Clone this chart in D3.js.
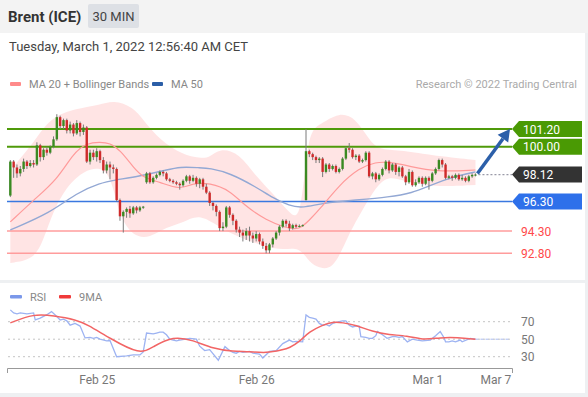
<!DOCTYPE html>
<html><head><meta charset="utf-8">
<script src="https://cdn.jsdelivr.net/npm/d3@7"></script>
<style>
body{margin:0;background:#fff;font-family:Roboto,"Noto Sans",sans-serif;}
svg{display:block}
</style></head><body>
<svg id="c" width="588" height="397"></svg>
<script>
// ---------- DATA ----------
const title = "Brent (ICE)";
const interval = "30 MIN";
const dateText = "Tuesday, March 1, 2022 12:56:40 AM CET";
const legendMain = ["MA 20 + Bollinger Bands", "MA 50"];
const legendRsi = ["RSI", "9MA"];
const credit = "Research \u00a9 2022 Trading Central";

// candles: [open, high, low, close], 30-min bars
const candles = [
[96.7,99.1,96.6,99.0],[99.0,99.1,97.9,98.6],[98.6,98.8,97.9,98.2],[98.2,98.7,98.0,98.5],[98.5,99.2,98.3,99.0],
[99.0,99.1,98.5,98.7],[98.7,99.1,98.6,98.9],[98.9,99.1,98.6,98.8],[98.8,100.3,98.7,100.1],[100.1,100.2,99.0,99.3],
[99.3,99.9,99.1,99.8],[99.8,100.0,99.4,99.6],[99.6,100.1,99.5,100.0],[100.0,100.7,99.9,100.5],[100.5,102.2,100.4,102.0],
[102.0,102.1,101.2,101.4],[101.4,101.9,101.2,101.8],[101.8,101.9,100.9,101.1],[101.1,101.7,100.9,101.5],[101.5,101.6,100.7,100.9],
[100.9,101.8,100.8,101.6],[101.6,101.7,100.7,101.0],[101.0,101.5,100.8,101.3],[101.3,101.4,98.9,99.0],[99.0,99.8,98.8,99.6],
[99.6,99.8,99.1,99.3],[99.3,99.9,99.0,99.7],[99.7,99.8,98.9,99.1],[99.1,99.3,98.2,98.4],[98.4,99.0,98.2,98.8],
[98.8,99.0,97.8,98.6],[98.6,98.8,98.2,98.5],[98.5,98.6,96.3,96.4],[96.4,96.5,95.0,95.3],[95.3,95.7,94.2,95.6],
[95.6,95.9,95.2,95.8],[95.8,96.0,95.2,95.5],[95.5,96.0,95.4,95.9],[95.9,96.0,95.5,95.7],[95.7,96.0,95.6,95.9],
[95.9,96.0,95.8,95.95],[97.6,98.3,97.5,98.2],[98.2,98.3,97.5,97.6],[97.6,98.0,97.5,97.9],[97.9,98.2,97.8,98.1],
[98.1,98.4,98.0,98.3],[98.3,98.4,98.0,98.2],[98.2,98.3,97.7,97.8],[97.8,97.9,97.6,97.7],[97.7,97.8,97.5,97.6],
[97.6,97.7,97.4,97.5],[97.5,97.6,97.1,97.4],[97.4,97.8,97.3,97.7],[97.7,98.1,97.6,98.0],[98.0,98.1,97.5,97.7],
[97.7,98.1,97.6,97.9],[97.9,98.0,97.3,97.5],[97.5,97.9,97.2,97.8],[97.8,97.9,97.1,97.3],[97.3,97.5,96.8,96.9],
[96.9,97.0,96.0,96.2],[96.2,96.3,95.7,96.0],[96.0,96.1,95.3,95.6],[95.6,95.7,94.3,94.5],[94.5,94.9,94.3,94.6],
[94.6,96.0,94.5,95.9],[95.9,96.0,95.2,95.4],[95.4,95.5,94.7,95.0],[95.0,95.1,94.2,94.4],[94.4,94.6,93.9,94.2],
[94.2,94.4,93.6,94.0],[94.0,94.5,93.7,94.3],[94.3,94.6,93.6,94.0],[94.0,94.2,93.5,93.8],[93.8,94.3,93.6,94.1],
[94.1,94.2,93.4,93.6],[93.6,93.8,93.1,93.3],[93.3,93.5,92.8,93.0],[93.0,93.5,92.8,93.4],[93.4,93.9,93.2,93.8],
[93.8,94.3,93.7,94.2],[94.2,94.7,94.0,94.6],[94.6,95.1,94.5,95.0],[95.0,95.1,94.6,94.8],[94.8,95.0,94.3,94.5],
[94.5,94.8,94.4,94.7],[94.7,94.8,94.5,94.6],[94.6,94.75,94.55,94.65],[94.65,94.75,94.6,94.7],[96.4,101.2,96.35,99.7],
[99.7,99.8,99.3,99.5],[99.5,99.6,99.1,99.3],[99.3,99.4,98.9,99.1],[99.1,99.3,98.9,99.2],[99.2,99.3,97.95,98.3],
[98.3,98.9,98.2,98.8],[98.8,98.9,98.3,98.5],[98.5,98.8,98.4,98.7],[98.7,98.8,98.2,98.3],[98.3,98.6,98.2,98.5],
[98.5,99.3,98.4,99.2],[99.2,100.0,99.1,99.9],[99.9,100.25,99.6,99.8],[99.8,99.9,99.2,99.3],[99.3,99.5,99.1,99.4],
[99.4,99.5,98.9,99.0],[99.0,99.2,98.9,99.1],[99.1,99.7,99.0,99.6],[99.6,99.7,97.9,98.0],[98.0,98.3,97.8,98.2],
[98.2,98.3,97.6,97.8],[97.8,98.2,97.7,98.1],[98.1,98.6,98.0,98.5],[98.5,99.1,98.4,99.0],[99.0,99.1,98.2,98.4],
[98.4,98.9,98.3,98.8],[98.8,98.9,98.1,98.3],[98.3,98.7,98.0,98.6],[98.6,98.7,97.9,98.0],[98.0,98.1,97.4,97.6],
[97.6,98.5,97.5,98.3],[98.3,98.4,97.3,97.4],[97.4,97.8,97.3,97.6],[97.6,98.0,97.5,97.9],[97.9,98.0,97.3,97.5],
[97.5,98.0,97.4,97.9],[97.9,98.0,97.1,97.7],[97.7,98.3,97.6,98.2],[98.2,98.6,98.1,98.5],[98.5,99.2,98.4,99.1],
[99.1,99.2,98.6,98.8],[98.8,98.9,97.8,97.9],[97.9,98.1,97.8,98.0],[98.0,98.1,97.7,97.9],[97.9,98.2,97.8,98.1],
[98.1,98.2,97.7,97.8],[97.8,98.1,97.7,97.9],[97.9,98.0,97.6,97.7],[97.7,98.1,97.6,98.0],[98.0,98.2,97.9,98.1],
[98.1,98.2,98.0,98.12]
];

// moving averages / bands: [candle index, price]
const ma50 = [[0,94.38],[12,95.53],[20,96.89],[27,97.55],[31.5,97.75],[39,98.02],[47,98.43],[51,98.65],[57,98.58],
[60,98.56],[66,98.23],[74,97.28],[79,96.54],[84,96.0],[88,95.86],[94,96.2],[104,96.4],[114,96.6],[121,96.88],
[126,97.35],[133,97.96],[140,98.3]];
const ma20 = [[0,94.92],[7,96.4],[14,97.75],[19,99.58],[23,100.25],[27,100.32],[30,100.25],[33,99.78],[37,98.63],
[40,97.89],[45,97.62],[51,97.08],[55,97.55],[60,97.55],[66,97.08],[71,95.93],[77,95.05],[83,94.51],[87,94.38],
[90,95.05],[93,95.73],[99,97.42],[105,98.56],[110,98.97],[114,98.97],[120,98.7],[128,98.3],[140,98.43]];
const bbUpper = [[0,98.43],[7,100.25],[12,102.0],[20,102.6],[27,102.82],[31,103.16],[37,102.69],[40,101.81],
[45,100.46],[52,99.44],[57,99.24],[60,99.24],[63,99.92],[69,99.58],[74,97.96],[80,96.61],[84,95.52],[87.5,94.92],
[89.5,101.0],[93,101.47],[99,102.35],[104,101.94],[108,100.46],[111,99.78],[117,99.78],[126,99.44],[140,99.1]];
const bbLower = [[0,92.15],[7,92.35],[10,93.7],[13,95.73],[17,97.28],[20,97.96],[24,98.56],[30,98.56],[32.5,95.39],
[37,93.9],[42,93.84],[47,94.58],[52,94.85],[57,95.52],[64,94.38],[71,93.7],[77,93.23],[82,93.02],[87,93.23],
[89.5,92.35],[92,91.88],[96,91.67],[99,92.55],[102,94.17],[106,95.73],[110,97.28],[114,98.09],[120,97.55],
[129,97.28],[140,97.42]];

// key levels
const levelValues = [101.2, 100.0, 98.12, 96.3, 94.3, 92.8];
const levelLabels = ["101.20", "100.00", "98.12", "96.30", "94.30", "92.80"];
const levelKinds  = ["res", "res", "last", "pivot", "sup", "sup"];

// RSI and its 9-period MA: [candle index, value]
const rsi = [[0,83.5],[1,80],[2,79],[3,80],[5,79],[7,80],[7.5,72],[9,74],[10,76],[11,78],[12.4,81.5],[14,76],
[15,72],[16,73],[17,71],[18,66],[19.5,68],[21,65],[22.5,51.5],[24,52],[25,51],[26,52],[27,50],[29,48],[30,48.5],
[32,30],[35,31],[37,32],[39,32],[40,35.5],[41,57],[43,56],[44,57],[45,58],[46,58],[47,55],[48,50],[49,49],[50,48],
[51,49],[54,51],[56,50],[57,42],[58.5,37],[60,38],[62.6,26],[64.6,41.5],[66,37],[67,35],[68,34],[69,36],[70,35],
[72,36],[73,34],[75,33],[76,28.5],[78,36],[80,37],[82,45],[84,49],[85,47],[86,47.5],[88,47],[89,77.8],[90,75],
[91,74],[92,73],[93,68],[94,66],[95,67],[96,65],[97,68],[99,70],[100,71],[101,71],[102,66],[103,64],[104,65],
[105,65],[105.5,53],[107,52],[108,51],[109,51],[110,54],[110.5,58.7],[112,55],[113.4,51],[115,53],[116,53],[117,52],
[118,53],[119.5,47],[121,50],[122.5,49],[124,48],[126.4,49],[128,54],[129.4,58.7],[130.5,52],[131,47],[132,47],
[133,48],[134,47],[135.4,49],[136,47],[138.4,51],[140,50]];
const rsiMa = [[0,68.6],[7,79],[13,77],[20,72],[23,67],[30,51],[39,32],[43,41.5],[49,53.5],[55,49],[61,39],[67,36],
[72,36],[77,34],[82,38],[84,40],[87,47],[90,58.7],[94,66],[97,70],[100,69],[104,66],[109,58.7],[114,55],[119.5,54],
[124,49],[129.5,52],[134.5,52],[140,50]];
const rsiTicks = [30, 50, 70];

// x axis
const xTickIdx = [26, 74, 125.5, 146];
const xTickLabels = ["Feb 25", "Feb 26", "Mar 1", "Mar 7"];

// ---------- CHART ----------
const W = 588, H = 397;
const svg = d3.select("#c");
const FONT = "Roboto, 'Noto Sans', sans-serif";

svg.append("rect").attr("width", W).attr("height", H).attr("fill", "#eef0f2");
svg.append("rect").attr("x", 0).attr("y", 33).attr("width", 585).attr("height", 247).attr("fill", "#fff");
svg.append("rect").attr("x", 0).attr("y", 283).attr("width", 585).attr("height", 110).attr("fill", "#fff");
svg.append("rect").attr("x", 0).attr("y", 0).attr("width", W).attr("height", 33).attr("fill", "#f3f3f3");

// header
svg.append("text").attr("x", 8).attr("y", 22).attr("font-family", FONT).attr("font-size", 15)
  .attr("font-weight", 700).attr("fill", "#333").text(title);
svg.append("rect").attr("x", 88).attr("y", 4).attr("width", 51).attr("height", 24).attr("rx", 2).attr("fill", "#dde0e5");
svg.append("text").attr("x", 113.5).attr("y", 21).attr("text-anchor", "middle").attr("font-family", FONT)
  .attr("font-size", 13).attr("fill", "#444").text(interval);
svg.append("text").attr("x", 9).attr("y", 51).attr("font-family", FONT).attr("font-size", 13)
  .attr("fill", "#444").text(dateText);

// legend main
const legColors = ["#ff8a8a", "#2b5ea7"];
const legX = [10, 152];
legendMain.forEach((t, i) => {
  svg.append("rect").attr("x", legX[i]).attr("y", 82).attr("width", 11).attr("height", 4).attr("rx", 1).attr("fill", legColors[i]);
  svg.append("text").attr("x", legX[i] + 19).attr("y", 88).attr("font-family", FONT).attr("font-size", 11)
    .attr("fill", "#888").text(t);
});
svg.append("text").attr("x", 577).attr("y", 88).attr("text-anchor", "end").attr("font-family", FONT)
  .attr("font-size", 11).attr("fill", "#aaa").text(credit);

// scales
const x = d3.scaleLinear().domain([-1, 151]).range([7, 512]);
const y = d3.scaleLinear().domain([92.8, 101.2]).range([253.3, 129]);
const yr = d3.scaleLinear().domain([30, 70]).range([356.7, 321.7]);

const g = svg.append("g");

// Bollinger band
const bline = d3.line().x(d => x(d[0])).y(d => y(d[1])).curve(d3.curveBasis);
const up = bline(bbUpper);
const lo = bline(bbLower.slice().reverse()).replace(/^M/, "L");
g.append("path").attr("d", up + lo + "Z").attr("fill", "rgba(255,120,120,0.2)");

// level lines
const lvlColor = {res: "#4f9a0a", last: "#999", pivot: "#3a78e0", sup: "#ff9c9c"};
levelValues.forEach((v, i) => {
  const k = levelKinds[i];
  if (k === "last") return;
  g.append("line").attr("x1", 7).attr("x2", 512).attr("y1", y(v)).attr("y2", y(v))
    .attr("stroke", lvlColor[k]).attr("stroke-width", k === "res" ? 2.2 : 1.5);
});

// MAs
const mline = d3.line().x(d => x(d[0])).y(d => y(d[1])).curve(d3.curveBasis);
g.append("path").attr("d", mline(ma50)).attr("fill", "none").attr("stroke", "#93a8d4").attr("stroke-width", 1.4);
g.append("path").attr("d", mline(ma20)).attr("fill", "none").attr("stroke", "#ff9a9a").attr("stroke-width", 1.2);

// candles
const cw = 2.4;
const cg = g.append("g");
cg.selectAll("line.w").data(candles).join("line")
  .attr("x1", (d, i) => x(i)).attr("x2", (d, i) => x(i))
  .attr("y1", d => y(d[1])).attr("y2", d => y(d[2]))
  .attr("stroke", "#7a7a7a").attr("stroke-width", 1);
cg.selectAll("rect.b").data(candles).join("rect")
  .attr("x", (d, i) => x(i) - cw / 2).attr("width", cw)
  .attr("y", d => y(Math.max(d[0], d[3])))
  .attr("height", d => Math.max(1, Math.abs(y(d[0]) - y(d[3]))))
  .attr("fill", d => d[3] >= d[0] ? "#3a8a22" : "#cf2a2a");

// last-price dotted line
const lastIdx = candles.length - 1;
const lastVal = levelValues[levelKinds.indexOf("last")];
g.append("line").attr("x1", x(lastIdx) + 3).attr("x2", 512).attr("y1", y(lastVal)).attr("y2", y(lastVal))
  .attr("stroke", "#9a9aa8").attr("stroke-width", 1.2).attr("stroke-dasharray", "2,2");

// forecast arrow
const ax0 = x(lastIdx) + 2, ay0 = y(lastVal) - 1;
const ax1 = x(150.4), ay1 = y(levelValues[0]);
const ang = Math.atan2(ay1 - ay0, ax1 - ax0);
const hl = 12, hw = 6.5;
const bx = ax1 - hl * Math.cos(ang), by = ay1 - hl * Math.sin(ang);
g.append("line").attr("x1", ax0).attr("y1", ay0).attr("x2", bx).attr("y2", by)
  .attr("stroke", "#2c5fa9").attr("stroke-width", 3.5);
g.append("path").attr("d", `M${ax1},${ay1}L${bx + hw * Math.sin(ang)},${by - hw * Math.cos(ang)}L${bx - hw * Math.sin(ang)},${by + hw * Math.cos(ang)}Z`)
  .attr("fill", "#2c5fa9");

// level labels
const boxFill = {res: "#4a9a04", last: "#333333", pivot: "#2e70ea"};
levelValues.forEach((v, i) => {
  const k = levelKinds[i], cy = y(v);
  if (boxFill[k]) {
    g.append("path").attr("d", `M512,${cy}L519,${cy - 8}L582,${cy - 8}L582,${cy + 8}L519,${cy + 8}Z`).attr("fill", boxFill[k]);
    g.append("text").attr("x", 523).attr("y", cy + 4.5).attr("font-family", FONT).attr("font-size", 12)
      .attr("fill", "#fff").text(levelLabels[i]);
  } else {
    g.append("text").attr("x", 521).attr("y", cy + 4.5).attr("font-family", FONT).attr("font-size", 12)
      .attr("fill", "#ff4a4a").text(levelLabels[i]);
  }
});

// ---------- RSI PANEL ----------
const rl = [["#7b98ea", 10], ["#f03a3a", 59]];
legendRsi.forEach((t, i) => {
  svg.append("rect").attr("x", rl[i][1]).attr("y", 295).attr("width", 12).attr("height", 3.5).attr("rx", 1).attr("fill", rl[i][0]);
  svg.append("text").attr("x", rl[i][1] + 20).attr("y", 301).attr("font-family", FONT).attr("font-size", 11)
    .attr("fill", "#888").text(t);
});
rsiTicks.forEach(t => {
  svg.append("line").attr("x1", 8).attr("x2", 510).attr("y1", yr(t)).attr("y2", yr(t))
    .attr("stroke", "#c4c4c4").attr("stroke-width", 1).attr("stroke-dasharray", "2,3");
  svg.append("text").attr("x", 521).attr("y", yr(t) + 4.5).attr("font-family", FONT).attr("font-size", 12)
    .attr("fill", "#777").text(t);
});
svg.append("line").attr("x1", x(lastIdx)).attr("x2", 510).attr("y1", yr(50)).attr("y2", yr(50))
  .attr("stroke", "#aabcf0").attr("stroke-width", 1).attr("stroke-dasharray", "3,2");
const rline = d3.line().x(d => x(d[0])).y(d => yr(d[1]));
svg.append("path").attr("d", rline(rsi)).attr("fill", "none").attr("stroke", "#9db3f2").attr("stroke-width", 1.3);
svg.append("path").attr("d", rline.curve(d3.curveBasis)(rsiMa)).attr("fill", "none").attr("stroke", "#f26565").attr("stroke-width", 1.5);

// x axis
const xa = d3.axisBottom(x).tickValues(xTickIdx).tickFormat((d, i) => xTickLabels[i])
  .tickSizeInner(0).tickSizeOuter(5).tickPadding(7);
const ag = svg.append("g").attr("transform", "translate(0,368)").call(xa);
ag.select(".domain").attr("stroke", "#999");
ag.selectAll("text").attr("font-family", FONT).attr("font-size", 12).attr("fill", "#777");
</script>
</body></html>
